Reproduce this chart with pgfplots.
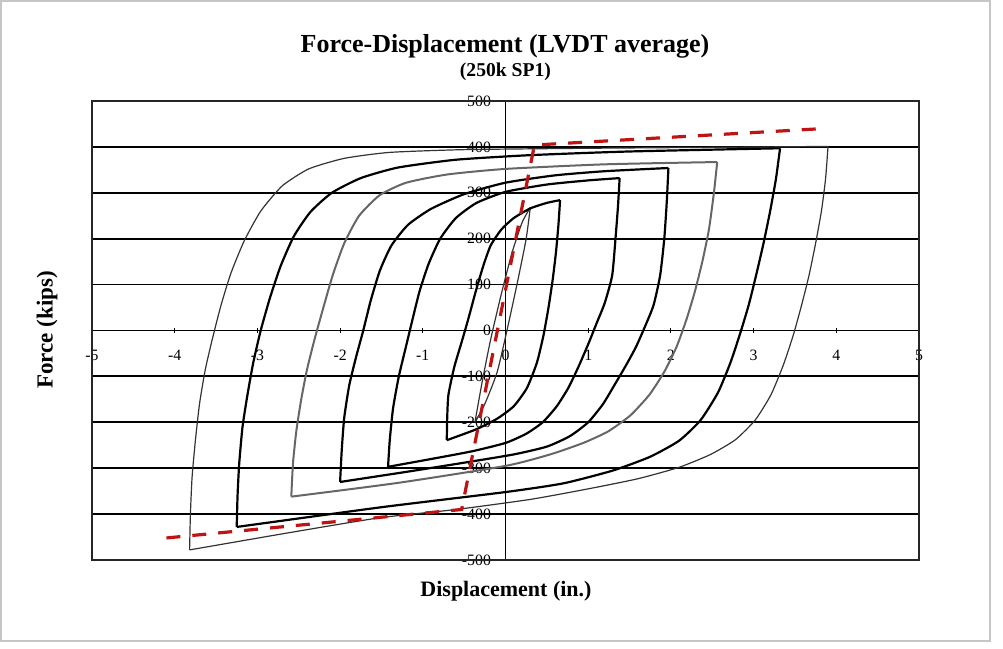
\documentclass[border=0pt]{standalone}
\usepackage{pgfplots}
\pgfplotsset{compat=1.18}
\usepackage{fontspec}
\setmainfont{Liberation Serif}
\definecolor{dred}{RGB}{190,20,20}
\begin{document}
\begin{tikzpicture}
\path[use as bounding box] (0,0) rectangle (501.5pt,324.5pt);
\draw[gray!45, line width=0.6pt] (0.5pt,4pt) rectangle (495pt,324pt);
\begin{axis}[
  at={(46pt,44.5pt)}, anchor=south west,
  scale only axis, width=413.5pt, height=229.5pt,
  xmin=-5, xmax=5, ymin=-500, ymax=500,
  axis lines=middle, axis line style={-, black, line width=0.7pt},
  hide obscured x ticks=false, hide obscured y ticks=false,
  xtick={-5,-4,...,5}, xticklabels={-5,-4,-3,-2,-1,0,1,2,3,4,5},
  ytick={-500,-400,...,500}, yticklabels={-500,-400,-300,-200,-100,0,100,200,300,400,500},
  ymajorgrids, grid style={black, line width=0.9pt},
  tick style={black, line width=0.5pt}, major tick length=2.5pt,
  xticklabel style={font=\fontsize{7.9}{8}\selectfont, anchor=north, yshift=-5pt},
  yticklabel style={font=\fontsize{7.9}{8}\selectfont, anchor=east, xshift=-2.5pt},
  clip=false,
  thin loop/.style={black!80, line width=0.6pt, smooth, tension=0.35, no marks},
  gray loop/.style={black!60, line width=1.0pt, smooth, tension=0.35, no marks},
  bold loop/.style={black, line width=1.1pt, smooth, tension=0.35, no marks},
]
\draw[black!85, line width=1pt] (rel axis cs:0,0) rectangle (rel axis cs:1,1);
% elastic cycle
\addplot[thin loop] coordinates {(-0.37,-200) (-0.28,-110) (-0.18,-20) (-0.05,80) (0.08,170) (0.2,235) (0.3,268)};
\addplot[thin loop] coordinates {(0.3,268) (0.25,200) (0.15,110) (0.03,10) (-0.1,-90) (-0.25,-160) (-0.37,-200)};
% +-0.7
\addplot[bold loop] coordinates {(-0.71,-239) (-0.705,-190) (-0.69,-140) (-0.62,-80) (-0.53,-25) (-0.45,25) (-0.36,85) (-0.27,140) (-0.18,185) (-0.05,220) (0.1,245) (0.3,266) (0.5,278) (0.66,284)};
\addplot[bold loop] coordinates {(0.66,284) (0.64,230) (0.61,170) (0.57,110) (0.52,50) (0.46,-10) (0.38,-70) (0.26,-125) (0.1,-165) (-0.1,-192) (-0.35,-215) (-0.71,-239)};
% +-1.4
\addplot[bold loop] coordinates {(-1.42,-297) (-1.40,-240) (-1.36,-170) (-1.29,-100) (-1.21,-40) (-1.13,20) (-1.04,85) (-0.93,145) (-0.79,200) (-0.6,245) (-0.35,278) (0,302) (0.5,318) (1.0,327) (1.38,332)};
\addplot[bold loop] coordinates {(1.38,332) (1.36,270) (1.33,200) (1.29,120) (1.2,60) (1.1,15) (1.0,-30) (0.88,-80) (0.76,-125) (0.62,-165) (0.45,-200) (0.25,-225) (0,-245) (-0.4,-263) (-0.9,-280) (-1.42,-297)};
% +-2.0
\addplot[bold loop] coordinates {(-2.0,-330) (-1.98,-260) (-1.95,-190) (-1.89,-120) (-1.81,-60) (-1.72,0) (-1.63,65) (-1.52,130) (-1.38,185) (-1.18,230) (-0.9,265) (-0.5,297) (0,322) (0.6,338) (1.2,347) (1.97,354)};
\addplot[bold loop] coordinates {(1.97,354) (1.95,280) (1.92,200) (1.87,120) (1.79,55) (1.69,10) (1.58,-35) (1.46,-75) (1.33,-115) (1.18,-160) (1.0,-200) (0.78,-230) (0.5,-253) (0.1,-270) (-0.5,-288) (-1.2,-308) (-2.0,-330)};
% +-2.6
\addplot[gray loop] coordinates {(-2.59,-362) (-2.57,-290) (-2.53,-220) (-2.47,-150) (-2.40,-85) (-2.31,-20) (-2.21,45) (-2.09,120) (-1.95,190) (-1.77,250) (-1.52,295) (-1.2,322) (-0.7,340) (0,352) (1.2,362) (2.56,367)};
\addplot[gray loop] coordinates {(2.56,367) (2.52,300) (2.46,220) (2.38,150) (2.29,85) (2.19,25) (2.07,-35) (1.92,-90) (1.74,-140) (1.51,-185) (1.24,-220) (0.94,-245) (0.54,-270) (0,-295) (-1.3,-332) (-2.59,-362)};
% +-3.3
\addplot[bold loop] coordinates {(-3.25,-428) (-3.24,-360) (-3.22,-290) (-3.18,-210) (-3.12,-140) (-3.05,-70) (-2.96,0) (-2.85,70) (-2.72,140) (-2.56,205) (-2.36,258) (-2.1,300) (-1.75,332) (-1.3,355) (-0.6,372) (0.3,382) (1.5,390) (3.32,397)};
\addplot[bold loop] coordinates {(3.32,397) (3.27,330) (3.2,260) (3.12,190) (3.03,120) (2.94,55) (2.84,-5) (2.72,-70) (2.57,-135) (2.36,-195) (2.1,-240) (1.75,-275) (1.3,-305) (0.7,-333) (0,-352) (-1.5,-385) (-3.25,-428)};
% +-3.9
\addplot[thin loop] coordinates {(-3.82,-478) (-3.81,-400) (-3.79,-320) (-3.75,-240) (-3.70,-160) (-3.63,-85) (-3.54,-15) (-3.44,55) (-3.32,125) (-3.16,195) (-2.96,260) (-2.7,315) (-2.38,352) (-1.95,375) (-1.4,388) (-0.5,394) (1,397) (2.5,399) (3.9,401)};
\addplot[thin loop] coordinates {(3.9,401) (3.87,330) (3.82,260) (3.75,190) (3.67,120) (3.58,55) (3.48,-10) (3.36,-75) (3.21,-140) (3.02,-195) (2.78,-238) (2.48,-270) (2.1,-298) (1.6,-323) (1.0,-345) (0.3,-368) (-0.6,-390) (-1.52,-408) (-2.6,-440) (-3.82,-478)};
% bilinear idealisation
\addplot[dred, line width=1.6pt, dash pattern=on 7pt off 6pt, no marks] coordinates {(-4.1,-452) (-0.53,-390) (0.35,404) (3.85,440)};
\end{axis}
\node[font=\bfseries\fontsize{13}{15}\selectfont] at (252.5pt,301.5pt) {Force-Displacement (LVDT average)};
\node[font=\bfseries\fontsize{9.8}{11}\selectfont] at (252.7pt,288.5pt) {(250k SP1)};
\node[font=\bfseries\fontsize{11}{13}\selectfont] at (253pt,29pt) {Displacement (in.)};
\node[font=\bfseries\fontsize{11.5}{13}\selectfont, rotate=90] at (23.5pt,159.5pt) {Force (kips)};
\end{tikzpicture}
\end{document}
